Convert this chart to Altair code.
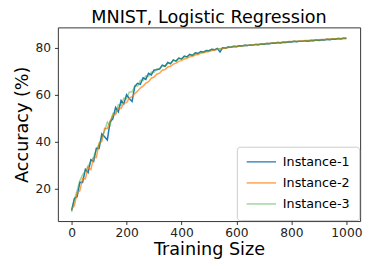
import altair as alt
import pandas as pd

sizes = list(range(0, 1001, 10))

inst1 = [10.8, 15.9, 16.6, 22.8, 22.7, 28.3, 26.9, 32.4, 31.6, 37.3,
         37.2, 43.4, 42.2, 40.8, 48.6, 49.8, 54.7, 52.8, 57.6, 56.1,
         60.1, 58.4, 57.2, 63.6, 64.9, 64.5, 67.3, 66.6, 69.2, 68.5,
         70.6, 70.7, 71.1, 72.7, 72.2, 73.8, 73.3, 74.9, 74.4, 75.7,
         75.3, 76.5, 76.2, 77.3, 76.8, 77.9, 77.6, 78.5, 78.2, 78.9,
         78.8, 79.4, 79.2, 79.8, 78.3, 80.1, 79.9, 80.4, 80.3, 80.7,
         80.5, 80.9, 80.8, 81.1, 81.0, 81.3, 81.2, 81.5, 81.4, 81.7,
         81.6, 81.9, 81.8, 82.1, 82.0, 82.3, 82.1, 82.4, 82.3, 82.6,
         82.5, 82.8, 82.6, 82.9, 82.8, 83.1, 82.9, 83.2, 83.1, 83.4,
         83.2, 83.5, 83.4, 83.7, 83.5, 83.8, 83.7, 84.0, 83.8, 84.1,
         84.0]

inst2 = [11.5, 12.8, 18.3, 19.1, 24.4, 24.2, 29.4, 28.1, 33.2, 33.3,
         39.5, 40.1, 45.8, 45.6, 48.8, 51.3, 51.6, 54.5, 54.2, 56.5,
         56.7, 58.6, 59.2, 60.6, 61.6, 62.9, 63.7, 65.0, 65.6, 67.1,
         67.6, 68.8, 69.3, 70.5, 70.8, 71.9, 72.2, 73.1, 73.5, 74.3,
         74.6, 75.3, 75.6, 76.2, 76.4, 77.0, 77.2, 77.7, 77.9, 78.3,
         78.5, 78.9, 79.0, 79.4, 79.5, 79.8, 79.9, 80.2, 80.3, 80.5,
         80.6, 80.7, 80.9, 81.0, 81.2, 81.2, 81.4, 81.5, 81.6, 81.6,
         81.8, 81.9, 82.0, 82.0, 82.2, 82.3, 82.3, 82.5, 82.5, 82.7,
         82.7, 82.8, 82.9, 83.0, 83.0, 83.2, 83.2, 83.3, 83.4, 83.4,
         83.5, 83.6, 83.6, 83.7, 83.8, 83.8, 83.9, 84.0, 84.0, 84.1,
         84.2]

inst3 = [10.2, 15.4, 19.3, 23.5, 25.9, 27.6, 29.7, 31.6, 33.5, 36.8,
         38.9, 41.6, 44.6, 48.4, 47.0, 52.1, 52.3, 55.8, 55.5, 58.6,
         58.3, 61.2, 61.2, 63.9, 63.7, 66.2, 66.0, 68.1, 67.9, 69.7,
         69.6, 71.1, 70.8, 72.4, 72.1, 73.6, 73.3, 74.6, 74.4, 75.5,
         75.3, 76.3, 76.2, 77.0, 76.9, 77.7, 77.6, 78.3, 78.2, 78.8,
         78.7, 79.3, 79.2, 79.7, 79.6, 80.1, 80.0, 80.4, 80.3, 80.7,
         80.6, 80.9, 80.8, 81.1, 81.0, 81.3, 81.2, 81.5, 81.4, 81.7,
         81.6, 81.9, 81.8, 82.1, 82.0, 82.3, 82.2, 82.4, 82.4, 82.6,
         82.6, 82.8, 82.7, 82.9, 82.9, 83.1, 83.0, 83.2, 83.2, 83.4,
         83.3, 83.5, 83.5, 83.7, 83.6, 83.8, 83.8, 84.0, 83.9, 84.1,
         84.1]

names = ["Instance-1", "Instance-2", "Instance-3"]
colors = ["#1f77b4", "#ff7f0e", "#2ca02c"]
opacities = [1.0, 0.45, 0.5]
x_ticks = [0, 200, 400, 600, 800, 1000]
y_ticks = [20, 40, 60, 80]

rows = []
for name, series in zip(names, [inst1, inst2, inst3]):
    for s, v in zip(sizes, series):
        rows.append({"size": s, "acc": v, "instance": name})
df = pd.DataFrame(rows)

FONT = "DejaVu Sans"

chart = alt.Chart(df).mark_line(strokeWidth=1.5).encode(
    x=alt.X("size:Q", title="Training Size",
            scale=alt.Scale(domain=[-50, 1050], nice=False, zero=False),
            axis=alt.Axis(values=x_ticks, format="d")),
    y=alt.Y("acc:Q", title="Accuracy (%)",
            scale=alt.Scale(domain=[6.25, 88.75], nice=False, zero=False),
            axis=alt.Axis(values=y_ticks, format="d")),
    color=alt.Color("instance:N", scale=alt.Scale(domain=names, range=colors),
                    legend=alt.Legend(title=None, orient="none", legendX=183, legendY=122)),
    opacity=alt.Opacity("instance:N", scale=alt.Scale(domain=names, range=opacities),
                        legend=alt.Legend(title=None, orient="none", legendX=183, legendY=122)),
    order=alt.Order("size:Q"),
).properties(
    width=309,
    height=198,
    title=alt.Title("MNIST, Logistic Regression", fontSize=18, font=FONT,
                    fontWeight="normal", color="#000", anchor="middle",
                    baseline="bottom", offset=0, dy=17),
    autosize=alt.AutoSizeParams(type="none"),
    padding={"left": 51, "top": 17, "right": 6, "bottom": 38},
).configure_view(
    stroke="#333", strokeWidth=1
).configure_axis(
    grid=False, domain=False, tickColor="#000", tickWidth=0.8, tickSize=3.5,
    labelFont=FONT, labelFontSize=12.5, labelColor="#222",
    titleFont=FONT, titleFontSize=18, titleFontWeight="normal", titleColor="#000",
).configure_axisX(
    labelPadding=2, titlePadding=2
).configure_axisY(
    labelPadding=4, titlePadding=4
).configure_legend(
    strokeColor="#cccccc", fillColor="rgba(255,255,255,0.8)", cornerRadius=3,
    padding=9, clipHeight=13, rowPadding=7.5, symbolType="stroke",
    symbolSize=900, symbolStrokeWidth=1.5, labelFontSize=13, labelFont=FONT,
    labelColor="#000", labelOffset=6,
)

chart.save("out.html", embed_options={"renderer": "svg", "actions": False})
